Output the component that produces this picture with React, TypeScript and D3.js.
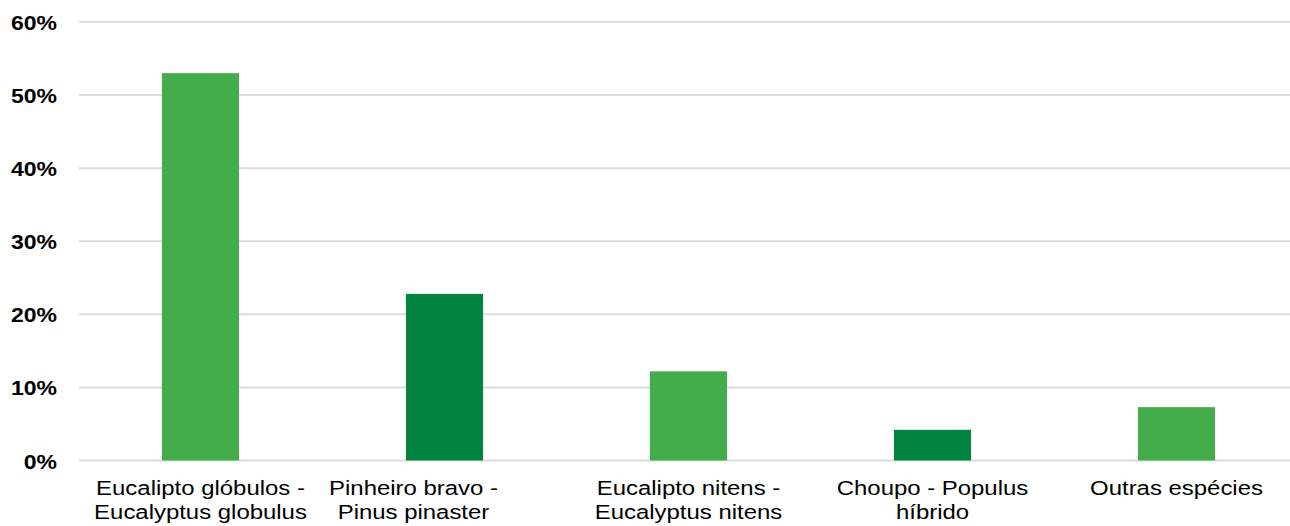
import React from "react";
import * as d3 from "d3";

// Share of planted area by species (%)
const categories = [
  "Eucalipto glóbulos - Eucalyptus globulus",
  "Pinheiro bravo - Pinus pinaster",
  "Eucalipto nitens - Eucalyptus nitens",
  "Choupo - Populus híbrido",
  "Outras espécies",
];
const labelLines = [
  ["Eucalipto glóbulos -", "Eucalyptus globulus"],
  ["Pinheiro bravo -", "Pinus pinaster"],
  ["Eucalipto nitens -", "Eucalyptus nitens"],
  ["Choupo - Populus", "híbrido"],
  ["Outras espécies"],
];
const values = [53.0, 22.8, 12.2, 4.2, 7.3];
const barColors = ["#43ad4b", "#00843f", "#43ad4b", "#00843f", "#43ad4b"];
const yTicks = [0, 10, 20, 30, 40, 50, 60];

const W = 1290;
const H = 526;
const FONT = "'Liberation Sans', Arial, Helvetica, sans-serif";
// horizontal nudge of each category label relative to its bar centre
const labelShift = [0, -31, 0, 0, 0];

export default function App() {
  const x = d3
    .scaleBand<string>()
    .domain(categories)
    .range([78.5, 1298.5])
    .paddingInner(0.684)
    .paddingOuter(0.342);
  const y = d3.scaleLinear().domain([0, 60]).range([460.5, 22]);

  return (
    <svg
      width={W}
      height={H}
      style={{ position: "fixed", left: 0, top: 0, background: "#fff" }}
    >
      {/* horizontal grid */}
      {yTicks.map((t) => (
        <line
          key={"g" + t}
          x1={79}
          x2={W}
          y1={y(t)}
          y2={y(t)}
          stroke="#dcdcdc"
          strokeWidth={2}
        />
      ))}
      {/* y tick labels */}
      {yTicks.map((t) => (
        <text
          key={"t" + t}
          transform={`translate(57,${y(t) + 8}) scale(1.15,1)`}
          textAnchor="end"
          fontFamily={FONT}
          fontWeight="bold"
          fontSize={20}
          fill="#000"
        >
          {d3.format(".0%")(t / 100)}
        </text>
      ))}
      {/* bars */}
      {categories.map((c, i) => (
        <rect
          key={"b" + i}
          x={x(c)}
          y={y(values[i])}
          width={x.bandwidth()}
          height={y(0) - y(values[i])}
          fill={barColors[i]}
        />
      ))}
      {/* category labels */}
      {categories.map((c, i) => {
        const cx = (x(c) as number) + x.bandwidth() / 2 + labelShift[i];
        return labelLines[i].map((line, j) => (
          <text
            key={"c" + i + "-" + j}
            transform={`translate(${cx},${y(0) + 34.5 + j * 24}) scale(1.14,1)`}
            textAnchor="middle"
            fontFamily={FONT}
            fontSize={21}
            fill="#000"
          >
            {line}
          </text>
        ));
      })}
    </svg>
  );
}
